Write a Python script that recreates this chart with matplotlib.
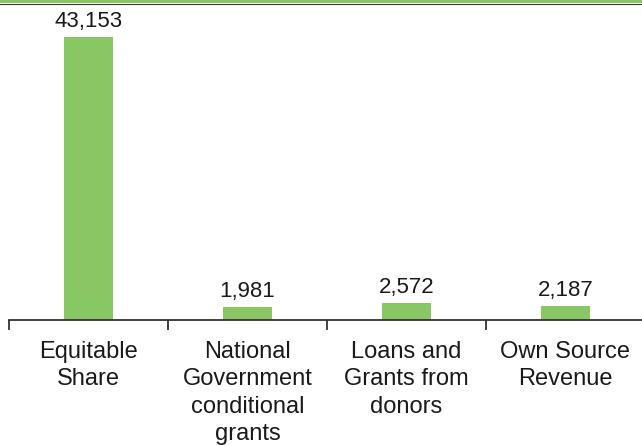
import numpy as np
import matplotlib.pyplot as plt
from matplotlib.lines import Line2D

categories = ["Equitable\nShare", "National\nGovernment\nconditional\ngrants",
              "Loans and\nGrants from\ndonors", "Own Source\nRevenue"]
values = [43153, 1981, 2572, 2187]

plt.rcParams['font.family'] = ['Liberation Sans', 'DejaVu Sans']

W, H = 642, 445
fig = plt.figure(figsize=(W / 100, H / 100), dpi=100)

# axes spans from x=9 to x=645 px, baseline at y=320 px
ymax = 45000
top_px = 320 - 283 * ymax / 43153
ax = fig.add_axes([9 / W, 1 - 320 / H, (645 - 9) / W, (320 - top_px) / H])

x = np.arange(len(values))
bars = ax.bar(x, values, width=0.31, color='#89c764')
ax.set_xlim(-0.5, 3.5)
ax.set_ylim(0, ymax)

for xi, v in zip(x, values):
    ax.annotate("{:,}".format(v), (xi, v), xytext=(0, 3.5), textcoords='offset points',
                ha='center', va='bottom', fontsize=16, color='#1a1a1a', annotation_clip=False)

for s in ['top', 'right', 'left']:
    ax.spines[s].set_visible(False)
ax.spines['bottom'].set_color('#333333')
ax.spines['bottom'].set_linewidth(1.3)
ax.set_yticks([])

ax.set_xticks(x)
ax.set_xticklabels(categories, fontsize=17, color='#1a1a1a', linespacing=1.32)
ax.tick_params(axis='x', which='major', length=0, pad=15)
ax.set_xticks(np.arange(-0.5, 4, 1), minor=True)
ax.tick_params(axis='x', which='minor', length=7, width=1.3, color='#333333', direction='out')

# header rule at the top of the figure
fig.add_artist(Line2D([0, 1], [1 - 1 / H, 1 - 1 / H], color='#89c764', linewidth=2.2))
fig.add_artist(Line2D([0, 1], [1 - 3.5 / H, 1 - 3.5 / H], color='#3a3a3a', linewidth=0.8))

fig.savefig('out.png', dpi=100)
